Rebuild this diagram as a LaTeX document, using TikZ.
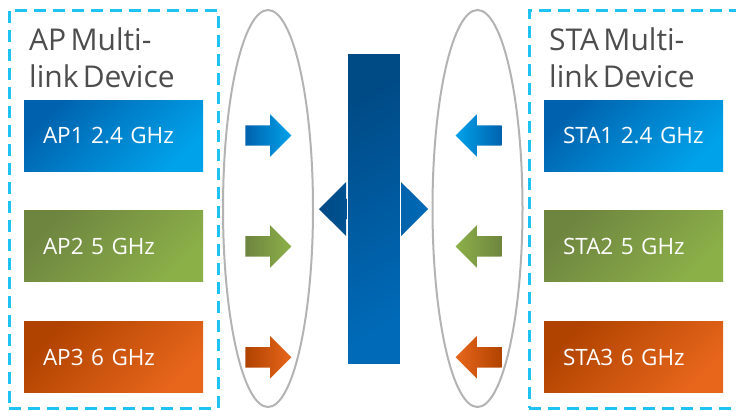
\documentclass[tikz,border=0pt]{standalone}
\usepackage{fontspec}
\setmainfont[WordSpace=0.55]{Open Sans}
\usetikzlibrary{positioning, shapes.arrows, shapes.geometric}
\definecolor{blueA}{RGB}{0, 98, 174}
\definecolor{blueB}{RGB}{0, 162, 234}
\definecolor{greenA}{RGB}{110, 133, 64}
\definecolor{greenB}{RGB}{140, 176, 72}
\definecolor{orangeA}{RGB}{176, 67, 0}
\definecolor{orangeB}{RGB}{232, 102, 28}
\definecolor{busA}{RGB}{0, 74, 133}
\definecolor{busB}{RGB}{0, 106, 184}
\definecolor{devcyan}{RGB}{31, 195, 243}
\definecolor{ringgray}{RGB}{179, 179, 179}
\definecolor{titlegray}{RGB}{77, 77, 77}

\begin{document}
\begin{tikzpicture}[
    x=1pt, y=-1pt,
    band/.style={
      minimum height=71pt, text width=141pt, inner xsep=19pt,
      inner ysep=0pt, align=left, text=white,
      font=\fontsize{22.5}{27}\selectfont,
      top color=#1A, bottom color=#1B, shading angle=45
    },
    devbox/.style={
      draw=devcyan, line width=3pt, dash pattern=on 12pt off 7pt,
      minimum height=398pt, inner sep=0pt
    },
    devtitle/.style={
      anchor=north west, inner sep=0pt, align=left, text=titlegray,
      font=\fontsize{30}{37}\selectfont
    },
    ring/.style={
      ellipse, draw=ringgray, line width=2pt, inner sep=0pt,
      minimum width=90pt, minimum height=397pt
    },
    feed/.style={
      single arrow, inner sep=0pt, text height=20pt, text depth=0pt,
      minimum height=46pt, single arrow head extend=11pt
    },
    node distance=39.5pt and 42pt,
]
    \useasboundingbox (0,0) rectangle (736,410);
    \clip (0,0) rectangle (736,410);

    % Device frames
    \node[devbox, minimum width=209pt] (apdev) at (113.5,209) {};
    \node[devbox, minimum width=230pt] (stadev) at (644,209) {};
    \node[devtitle] (aptitle) at (29,28) {AP Multi-\\link Device};
    \node[devtitle] (statitle) at (549,28) {STA Multi-\\link Device};

    % AP links
    \node[band=blue] (ap1) at (113.5,135.5) {AP1 2.4 GHz};
    \node[band=green, below=of ap1] (ap2) {AP2 5 GHz};
    \node[band=orange, below=of ap2] (ap3) {AP3 6 GHz};

    % STA links
    \node[band=blue] (sta1) at (633.5,135.5) {STA1 2.4 GHz};
    \node[band=green, below=of sta1] (sta2) {STA2 5 GHz};
    \node[band=orange, below=of sta2] (sta3) {STA3 6 GHz};

    % Rings around the link arrows
    \node[ring] (apring) at (268,208.5) {};
    \node[ring] (staring) at (477.5,208.5) {};

    % Arrows towards the shared bus
    \node[feed, left color=blueA, right color=blueB, right=of ap1] (apin1) {};
    \node[feed, left color=greenA, right color=greenB, right=of ap2] (apin2) {};
    \node[feed, left color=orangeA, right color=orangeB, right=of ap3] (apin3) {};
    \node[feed, shape border rotate=180, left color=blueB, right color=blueA,
      left=of sta1] (stain1) {};
    \node[feed, shape border rotate=180, left color=greenB, right color=greenA,
      left=of sta2] (stain2) {};
    \node[feed, shape border rotate=180, left color=orangeB, right color=orangeA,
      left=of sta3] (stain3) {};

    % Shared bus with its double arrow
    \node[double arrow, inner sep=0pt, text height=20pt, text depth=0pt,
      minimum height=109pt, double arrow head extend=17pt,
      left color=busA, right color=busB]
      (link) at (373.5,209) {};
    \node[draw=white, line width=1pt, minimum width=53pt, minimum height=311pt,
      inner sep=0pt, top color=busA, bottom color=busB, shading angle=30]
      (bus) at (373.5,208.5) {};
\end{tikzpicture}
\end{document}
